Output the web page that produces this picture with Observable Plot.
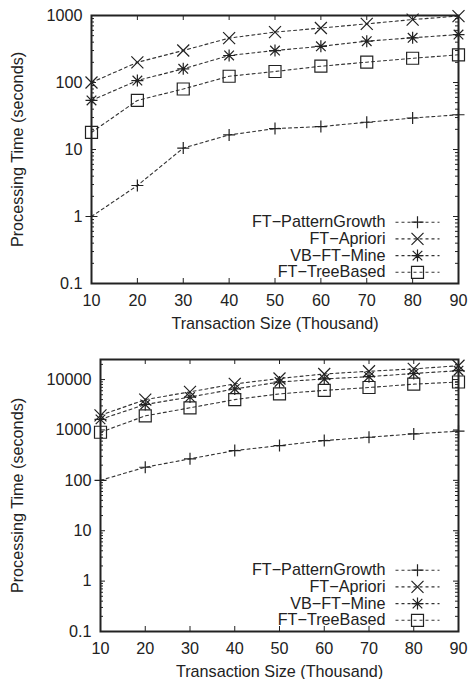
<!DOCTYPE html>
<html><head><meta charset="utf-8">
<script src="https://cdn.jsdelivr.net/npm/d3@7"></script>
<script src="https://cdn.jsdelivr.net/npm/@observablehq/plot@0.6"></script>
<style>
body{margin:0;background:#fff;}
#chart svg{display:block;}
</style>
</head><body><div id="chart"></div>
<script>
// ---- data ----
const sizes = [10, 20, 30, 40, 50, 60, 70, 80, 90];
const seriesNames = ["FT\u2212PatternGrowth", "FT\u2212Apriori", "VB\u2212FT\u2212Mine", "FT\u2212TreeBased"];
const xTitle = "Transaction Size (Thousand)";
const yTitle = "Processing Time (seconds)";

// top panel
const patternGrowth1 = [1, 2.9, 10.5, 16.5, 20.5, 22, 25.5, 29.5, 33];
const apriori1 = [100, 200, 300, 460, 565, 650, 750, 870, 980];
const vbFtMine1 = [54, 107, 160, 253, 300, 347, 414, 465, 520];
const treeBased1 = [18, 54, 80, 124, 146, 175, 201, 230, 259];
const yTicks1 = [0.1, 1, 10, 100, 1000];
const yTickLabels1 = ["0.1", "1", "10", "100", "1000"];

// bottom panel
const patternGrowth2 = [100, 182, 267, 390, 490, 615, 716, 835, 944];
const apriori2 = [1950, 4000, 5700, 8200, 10500, 12900, 14600, 16300, 18800];
const vbFtMine2 = [1620, 3200, 4500, 6500, 8950, 10300, 11400, 13200, 15000];
const treeBased2 = [900, 1900, 2750, 4000, 5200, 6100, 6950, 8100, 8950];
const yTicks2 = [0.1, 1, 10, 100, 1000, 10000];
const yTickLabels2 = ["0.1", "1", "10", "100", "1000", "10000"];

// ---- symbols (gnuplot-like) ----
const rad = s => Math.sqrt(s / Math.PI);
const symPlus = {draw(c, s) { const r = rad(s); c.moveTo(-r, 0); c.lineTo(r, 0); c.moveTo(0, -r); c.lineTo(0, r); }};
const symTimes = {draw(c, s) { const r = rad(s); c.moveTo(-r, -r); c.lineTo(r, r); c.moveTo(-r, r); c.lineTo(r, -r); }};
const symStar = {draw(c, s) { const r = rad(s); c.moveTo(-r, 0); c.lineTo(r, 0); c.moveTo(0, -r); c.lineTo(0, r);
  const q = r * 0.8; c.moveTo(-q, -q); c.lineTo(q, q); c.moveTo(-q, q); c.lineTo(q, -q); }};
const symSquare = {draw(c, s) { const r = rad(s); c.rect(-r, -r, 2 * r, 2 * r); }};
const symbols = [symPlus, symTimes, symStar, symSquare];
const symLine = {draw(c, s) { c.moveTo(-22, 0); c.lineTo(22, 0); }};

const INK = "#222";
const FONT = 16.2;

function panel({series, yDomain, yTicks, yTickLabels, height, marginTop, marginBottom, marginLeft, marginRight, yTitleDx}) {
  const innerW = 469 - marginLeft - marginRight;
  const innerH = height - marginTop - marginBottom;
  const rows = [];
  series.forEach((arr, i) => arr.forEach((v, j) => rows.push({series: seriesNames[i], si: i, x: sizes[j], y: v})));
  const minor = [];
  for (let e = Math.floor(Math.log10(yDomain[0])); e <= Math.ceil(Math.log10(yDomain[1])); e++)
    for (let k = 2; k <= 9; k++) { const v = k * Math.pow(10, e); if (v > yDomain[0] && v < yDomain[1]) minor.push(v); }
  const major = 5, minorLen = 3;
  const marks = [
    Plot.tickX(sizes, {x: d => d, insetTop: innerH - major, stroke: INK}),
    Plot.tickX(sizes, {x: d => d, insetBottom: innerH - major, stroke: INK}),
    Plot.tickY(yTicks, {y: d => d, insetRight: innerW - major, stroke: INK}),
    Plot.tickY(yTicks, {y: d => d, insetLeft: innerW - major, stroke: INK}),
    Plot.tickY(minor, {y: d => d, insetRight: innerW - minorLen, stroke: INK}),
    Plot.tickY(minor, {y: d => d, insetLeft: innerW - minorLen, stroke: INK}),
    Plot.line(rows, {x: "x", y: "y", z: "series", stroke: "#333", strokeWidth: 1.1, strokeDasharray: "3,3"})
  ];
  seriesNames.forEach((name, i) => {
    marks.push(Plot.dot(rows.filter(d => d.si === i), {x: "x", y: "y", symbol: symbols[i], r: 6, stroke: INK, strokeWidth: 1.2, fill: "none"}));
  });
  marks.push(Plot.frame({stroke: INK, strokeWidth: 2}));
  marks.push(Plot.text(sizes, {x: d => d, frameAnchor: "bottom", dy: 17, textAnchor: "middle", text: d => String(d), lineAnchor: "middle"}));
  marks.push(Plot.text(yTicks, {y: d => d, frameAnchor: "left", dx: -9, textAnchor: "end", lineAnchor: "middle", text: (d, i) => yTickLabels[i]}));
  marks.push(Plot.text([xTitle], {frameAnchor: "bottom", dy: 40, textAnchor: "middle", lineAnchor: "middle", text: d => d}));
  marks.push(Plot.text([yTitle], {frameAnchor: "left", dx: yTitleDx, rotate: -90, textAnchor: "middle", lineAnchor: "middle", text: d => d}));
  // legend
  seriesNames.forEach((name, i) => {
    const dy = -61.3 + i * 16.7;
    marks.push(Plot.text([name], {frameAnchor: "bottom-right", dx: -73, dy, textAnchor: "end", lineAnchor: "middle", text: d => d}));
    marks.push(Plot.dot([name], {frameAnchor: "bottom-right", dx: -41, dy, symbol: symLine, r: 6, stroke: "#333", strokeWidth: 1.1, strokeDasharray: "3,3", fill: "none"}));
    marks.push(Plot.dot([name], {frameAnchor: "bottom-right", dx: -41, dy, symbol: symbols[i], r: 6, stroke: INK, strokeWidth: 1.2, fill: "none"}));
  });
  return Plot.plot({
    width: 469, height, marginTop, marginBottom, marginLeft, marginRight,
    x: {domain: [10, 90], axis: null},
    y: {type: "log", domain: yDomain, axis: null},
    style: {fontFamily: "'Liberation Sans', Arial, sans-serif", fontSize: FONT + "px", color: INK, background: "#fff", overflow: "visible"},
    marks
  });
}

const chart = document.getElementById("chart");
chart.appendChild(panel({
  series: [patternGrowth1, apriori1, vbFtMine1, treeBased1],
  yDomain: [0.1, 1000], yTicks: yTicks1, yTickLabels: yTickLabels1,
  height: 340, marginTop: 15, marginBottom: 57, marginLeft: 91, marginRight: 11, yTitleDx: -73.5
}));
chart.appendChild(panel({
  series: [patternGrowth2, apriori2, vbFtMine2, treeBased2],
  yDomain: [0.1, 25000], yTicks: yTicks2, yTickLabels: yTickLabels2,
  height: 339, marginTop: 19, marginBottom: 48, marginLeft: 100, marginRight: 11, yTitleDx: -82.5
}));
</script>
</body></html>
